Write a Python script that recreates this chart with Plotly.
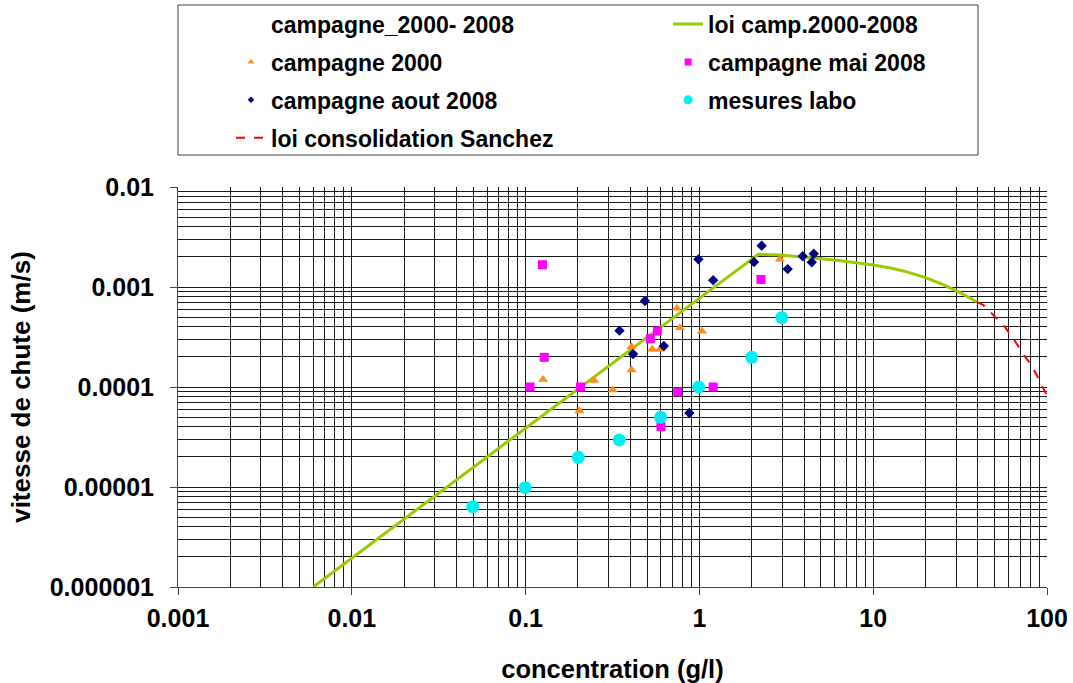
import plotly.graph_objects as go

# ---------------- data ----------------
c2000_x = [0.126, 0.204, 0.248, 0.317, 0.407, 0.407, 0.536, 0.593, 0.743, 0.773, 1.035, 2.91]
c2000_y = [0.000119, 0.0000575, 0.000116, 0.0000933, 0.000253, 0.000148,
           0.000238, 0.000238, 0.000612, 0.000392, 0.00036, 0.00189]

mai_x = [0.106, 0.125, 0.128, 0.207, 0.522, 0.573, 0.601, 0.75, 1.20, 2.26]
mai_y = [0.0001, 0.00167, 0.000198, 0.0001, 0.000304, 0.000363, 0.0000401,
         0.0000891, 0.0001, 0.00119]

aout_x = [0.347, 0.415, 0.486, 0.624, 0.875, 0.987, 1.20, 2.06, 2.28, 3.22, 3.93, 4.43, 4.55]
aout_y = [0.000366, 0.000214, 0.000724, 0.000257, 0.000055, 0.00189, 0.00117,
          0.00178, 0.00259, 0.00151, 0.00203, 0.00177, 0.00215]

labo_x = [0.0497, 0.0995, 0.201, 0.346, 0.598, 0.99, 2.0, 2.98]
labo_y = [6.35e-6, 9.84e-6, 1.98e-5, 2.95e-5, 4.98e-5, 0.0001, 0.000198, 0.000493]

loi_x = [0.006, 2.18, 2.91, 3.93, 4.73, 6.31, 7.94, 10.0, 12.6, 15.8, 20.0, 25.1, 31.6, 39.5]
loi_y = [1e-6, 0.00212, 0.00209, 0.00201, 0.00194, 0.00184, 0.00176, 0.00166,
         0.00155, 0.00141, 0.00124, 0.00106, 0.00088, 0.00071]

sanchez_x = [39.5, 43.1, 49.1, 56.1, 64.0, 71.5, 79.8, 87.2, 97.3, 100.0]
sanchez_y = [0.00071, 0.00066, 0.000525, 0.000417, 0.000307, 0.000225,
             0.000173, 0.000132, 0.0000898, 0.000083]

x_tickvals = [0.001, 0.01, 0.1, 1, 10, 100]
x_ticktext = ["0.001", "0.01", "0.1", "1", "10", "100"]
y_tickvals = [0.000001, 0.00001, 0.0001, 0.001, 0.01]
y_ticktext = ["0.000001", "0.00001", "0.0001", "0.001", "0.01"]

FONT = "Liberation Sans, Arial, sans-serif"
GRID = "#1a1a1a"

ORANGE = "#ff8c1a"
MAGENTA = "#ff00ff"
NAVY = "#000080"
CYAN = "#00f0f0"
GREEN = "#99cc00"
RED = "#ff0000"

fig = go.Figure()

# ---- data traces ----
fig.add_trace(go.Scatter(
    x=loi_x, y=loi_y, mode="lines", showlegend=False,
    line=dict(color=GREEN, width=3)))
fig.add_trace(go.Scatter(
    x=c2000_x, y=c2000_y, mode="markers", showlegend=False,
    marker=dict(symbol="triangle-up", color=ORANGE, size=9, line=dict(width=0))))
fig.add_trace(go.Scatter(
    x=mai_x, y=mai_y, mode="markers", showlegend=False,
    marker=dict(symbol="square", color=MAGENTA, size=9, line=dict(width=0))))
fig.add_trace(go.Scatter(
    x=aout_x, y=aout_y, mode="markers", showlegend=False,
    marker=dict(symbol="diamond", color=NAVY, size=8, line=dict(width=0))))
fig.add_trace(go.Scatter(
    x=labo_x, y=labo_y, mode="markers", showlegend=False,
    marker=dict(symbol="circle", color=CYAN, size=13, line=dict(width=0))))
fig.add_trace(go.Scatter(
    x=sanchez_x, y=sanchez_y, mode="lines", showlegend=False,
    line=dict(color=RED, width=2, dash="dash")))

# ---- legend entries (small symbols like the reference) ----
legend_entries = [
    ("campagne_2000- 2008", "legend", dict(mode="markers", marker=dict(color="rgba(0,0,0,0)", size=7))),
    ("loi camp.2000-2008", "legend2", dict(mode="lines", line=dict(color=GREEN, width=3))),
    ("campagne 2000", "legend", dict(mode="markers", marker=dict(symbol="triangle-up", color=ORANGE, size=6))),
    ("campagne mai 2008", "legend2", dict(mode="markers", marker=dict(symbol="square", color=MAGENTA, size=7))),
    ("campagne aout 2008", "legend", dict(mode="markers", marker=dict(symbol="diamond", color=NAVY, size=5))),
    ("mesures labo", "legend2", dict(mode="markers", marker=dict(symbol="circle", color=CYAN, size=9))),
    ("loi consolidation Sanchez", "legend", dict(mode="lines", line=dict(color=RED, width=2, dash="dash"))),
]
for i, (name, lg, style) in enumerate(legend_entries):
    fig.add_trace(go.Scatter(x=[None], y=[None], name=name, legend=lg,
                             legendgroup="g%d" % i, showlegend=True, **style))

axis_common = dict(
    type="log",
    showgrid=True, gridcolor=GRID, gridwidth=1,
    showline=True, linecolor="#444444", linewidth=1,
    ticks="outside", ticklen=7, tickcolor="#444444",
    tickfont=dict(family=FONT, size=25, color="black", weight="bold"),
    minor=dict(dtick="D1", showgrid=True, gridcolor=GRID, gridwidth=1, ticks=""),
    zeroline=False,
)

fig.update_xaxes(
    **axis_common,
    range=[-3, 2],
    tickvals=x_tickvals, ticktext=x_ticktext,
    ticklabelstandoff=2,
    title=dict(text="concentration (g/l)", standoff=29,
               font=dict(family=FONT, size=25.5, color="black", weight="bold")),
)
fig.update_yaxes(
    **axis_common,
    range=[-6, -2],
    tickvals=y_tickvals, ticktext=y_ticktext,
    ticklabelstandoff=11,
    title=dict(text="vitesse de chute (m/s)", standoff=11,
               font=dict(family=FONT, size=26, color="black", weight="bold")),
)

legend_font = dict(family=FONT, size=23, color="black", weight="bold")
fig.update_layout(
    width=1073, height=683,
    margin=dict(l=178, r=26, t=187, b=96, autoexpand=False),
    paper_bgcolor="white", plot_bgcolor="white",
    showlegend=True,
    legend=dict(x=0.061, y=1.461, xanchor="left", yanchor="top",
                bgcolor="rgba(0,0,0,0)", borderwidth=0, font=legend_font,
                tracegroupgap=5, orientation="v"),
    legend2=dict(x=0.564, y=1.461, xanchor="left", yanchor="top",
                 bgcolor="rgba(0,0,0,0)", borderwidth=0, font=legend_font,
                 tracegroupgap=5, orientation="v"),
    shapes=[dict(type="rect", xref="paper", yref="paper",
                 x0=0, x1=0.9206, y0=1.08, y1=1.455,
                 line=dict(color="#404040", width=1), fillcolor="rgba(0,0,0,0)",
                 layer="below")],
)

fig.write_html("out.html", config={"displayModeBar": False},
               post_script="document.body.style.margin='0';")
